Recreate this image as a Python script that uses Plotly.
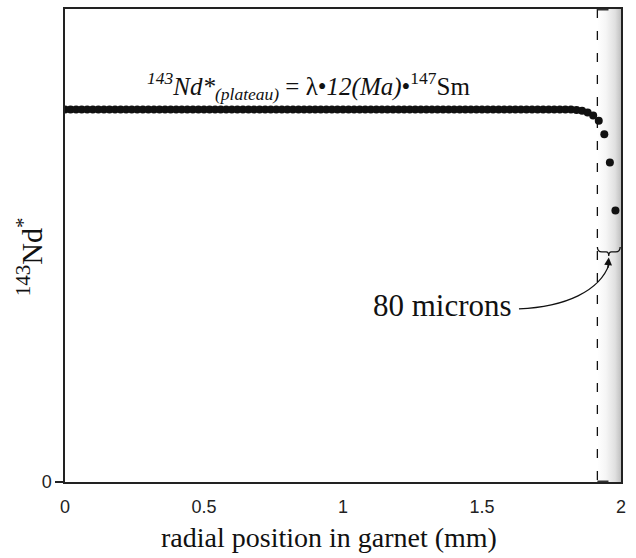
import plotly.graph_objects as go

# ---- data -------------------------------------------------------------
radial_mm = [
    0.00, 0.02, 0.04, 0.06, 0.08, 0.10, 0.12, 0.14, 0.16, 0.18,
    0.20, 0.22, 0.24, 0.26, 0.28, 0.30, 0.32, 0.34, 0.36, 0.38,
    0.40, 0.42, 0.44, 0.46, 0.48, 0.50, 0.52, 0.54, 0.56, 0.58,
    0.60, 0.62, 0.64, 0.66, 0.68, 0.70, 0.72, 0.74, 0.76, 0.78,
    0.80, 0.82, 0.84, 0.86, 0.88, 0.90, 0.92, 0.94, 0.96, 0.98,
    1.00, 1.02, 1.04, 1.06, 1.08, 1.10, 1.12, 1.14, 1.16, 1.18,
    1.20, 1.22, 1.24, 1.26, 1.28, 1.30, 1.32, 1.34, 1.36, 1.38,
    1.40, 1.42, 1.44, 1.46, 1.48, 1.50, 1.52, 1.54, 1.56, 1.58,
    1.60, 1.62, 1.64, 1.66, 1.68, 1.70, 1.72, 1.74, 1.76, 1.78,
    1.80, 1.82, 1.84, 1.86, 1.88, 1.90, 1.92, 1.94, 1.96, 1.98,
]
nd143_star = [
    1.0, 1.0, 1.0, 1.0, 1.0, 1.0, 1.0, 1.0, 1.0, 1.0,
    1.0, 1.0, 1.0, 1.0, 1.0, 1.0, 1.0, 1.0, 1.0, 1.0,
    1.0, 1.0, 1.0, 1.0, 1.0, 1.0, 1.0, 1.0, 1.0, 1.0,
    1.0, 1.0, 1.0, 1.0, 1.0, 1.0, 1.0, 1.0, 1.0, 1.0,
    1.0, 1.0, 1.0, 1.0, 1.0, 1.0, 1.0, 1.0, 1.0, 1.0,
    1.0, 1.0, 1.0, 1.0, 1.0, 1.0, 1.0, 1.0, 1.0, 1.0,
    1.0, 1.0, 1.0, 1.0, 1.0, 1.0, 1.0, 1.0, 1.0, 1.0,
    1.0, 1.0, 1.0, 1.0, 1.0, 1.0, 1.0, 1.0, 1.0, 1.0,
    1.0, 1.0, 1.0, 1.0, 1.0, 1.0, 1.0, 1.0, 1.0, 1.0,
    1.0, 1.0, 0.999, 0.997, 0.992, 0.984, 0.970, 0.934, 0.858, 0.729,
]
x_tickvals = [0, 0.5, 1, 1.5, 2]
x_ticktext = ["0", "0.5", "1", "1.5", "2"]
y_tickvals = [0]
y_ticktext = ["0"]

rim_start = 1.915     # dashed line (80 microns from the rim)
rim_end = 2.0
x_range = [0, 2]
y_range = [0, 1.27]

serif = "Liberation Serif, Times New Roman, serif"
sans = "Liberation Sans, Arial, sans-serif"

fig = go.Figure()

# shaded rim zone with horizontal gradient
fig.add_trace(go.Scatter(
    x=[rim_start, rim_end, rim_end, rim_start, rim_start],
    y=[y_range[0], y_range[0], y_range[1], y_range[1], y_range[0]],
    mode="lines", line=dict(width=0), fill="toself",
    fillgradient=dict(type="horizontal",
                      colorscale=[[0, "#ffffff"], [0.35, "#f6f6f6"],
                                  [0.75, "#e0e0e0"], [1, "#c0c0c0"]]),
    hoverinfo="skip", showlegend=False,
))

# profile points
fig.add_trace(go.Scatter(
    x=radial_mm, y=nd143_star, mode="markers",
    marker=dict(size=8, color="#111111", line=dict(width=0)),
    showlegend=False,
))

# dashed boundary line
fig.add_shape(type="line", x0=rim_start, x1=rim_start, y0=y_range[1], y1=y_range[0],
              xref="x", yref="y",
              line=dict(color="#111111", width=1.3, dash="9px,13px"))

# dark segments on frame over the shaded zone
for yy in (y_range[0], y_range[1]):
    fig.add_shape(type="line", x0=rim_start, x1=1.955, y0=yy, y1=yy,
                  xref="x", yref="y", line=dict(color="#333333", width=3))

# curly brace spanning the rim zone
xl, xr = rim_start, 1.997
xm = (xl + xr) / 2
yb, h, dx = 0.618, 0.013, 0.016
brace = (f"M {xl},{yb + h} Q {xl},{yb} {xl + dx},{yb} "
         f"L {xm - dx * 0.6},{yb} Q {xm},{yb} {xm},{yb - 0.011} "
         f"Q {xm},{yb} {xm + dx * 0.6},{yb} "
         f"L {xr - dx},{yb} Q {xr},{yb} {xr},{yb + h}")
fig.add_shape(type="path", path=brace, xref="x", yref="y",
              line=dict(color="#111111", width=1.3))

# curved leader from label to brace
curve = "M 1.633,0.465 C 1.80,0.470 1.924,0.513 1.9575,0.585"
fig.add_shape(type="path", path=curve, xref="x", yref="y",
              line=dict(color="#111111", width=1.3))
fig.add_annotation(x=xm, y=0.603, ax=-1, ay=12, axref="pixel", ayref="pixel",
                   text="", showarrow=True, arrowhead=2, arrowsize=1.2,
                   arrowwidth=1.3, arrowcolor="#111111")

# labels
fig.add_annotation(x=1.614, y=0.474, xref="x", yref="y", xanchor="right",
                   yanchor="middle", text="80 microns", showarrow=False,
                   font=dict(family=serif, size=31, color="#111111"))
fig.add_annotation(x=0.875, y=1.063, xref="x", yref="y", xanchor="center",
                   yanchor="middle",
                   text="<i><sup>143</sup>Nd*<sub>(plateau)</sub></i> = λ•<i>12(Ma)</i>•<sup>147</sup>Sm",
                   showarrow=False, font=dict(family=serif, size=25, color="#111111"))
fig.add_annotation(x=-0.064, y=0.476, xref="paper", yref="paper", textangle=-90,
                   xanchor="center", yanchor="middle",
                   text="<sup>143</sup>Nd<sup>*</sup>", showarrow=False,
                   font=dict(family=serif, size=30, color="#111111"))
fig.add_annotation(x=0.475, y=-0.118, xref="paper", yref="paper",
                   xanchor="center", yanchor="middle",
                   text="radial position in garnet (mm)", showarrow=False,
                   font=dict(family=serif, size=28, color="#111111"))

fig.update_xaxes(range=x_range, tickvals=x_tickvals, ticktext=x_ticktext,
                 showline=True, mirror=True, linecolor="#222222", linewidth=1.5,
                 showgrid=False, zeroline=False, ticks="", ticklabelstandoff=8,
                 tickfont=dict(family=sans, size=18, color="#222222"))
fig.update_yaxes(range=y_range, tickvals=y_tickvals, ticktext=y_ticktext,
                 showline=True, mirror=True, linecolor="#222222", linewidth=1.5,
                 showgrid=False, zeroline=False, ticks="outside", ticklen=8,
                 tickcolor="#222222", tickwidth=1.5,
                 tickfont=dict(family=sans, size=18, color="#222222"))

fig.update_layout(width=636, height=558, plot_bgcolor="white", paper_bgcolor="white",
                  margin=dict(l=65, r=15, t=7, b=76), showlegend=False)

fig.write_html("out.html", config={"displayModeBar": False},
               post_script="document.body.style.margin='0';")
